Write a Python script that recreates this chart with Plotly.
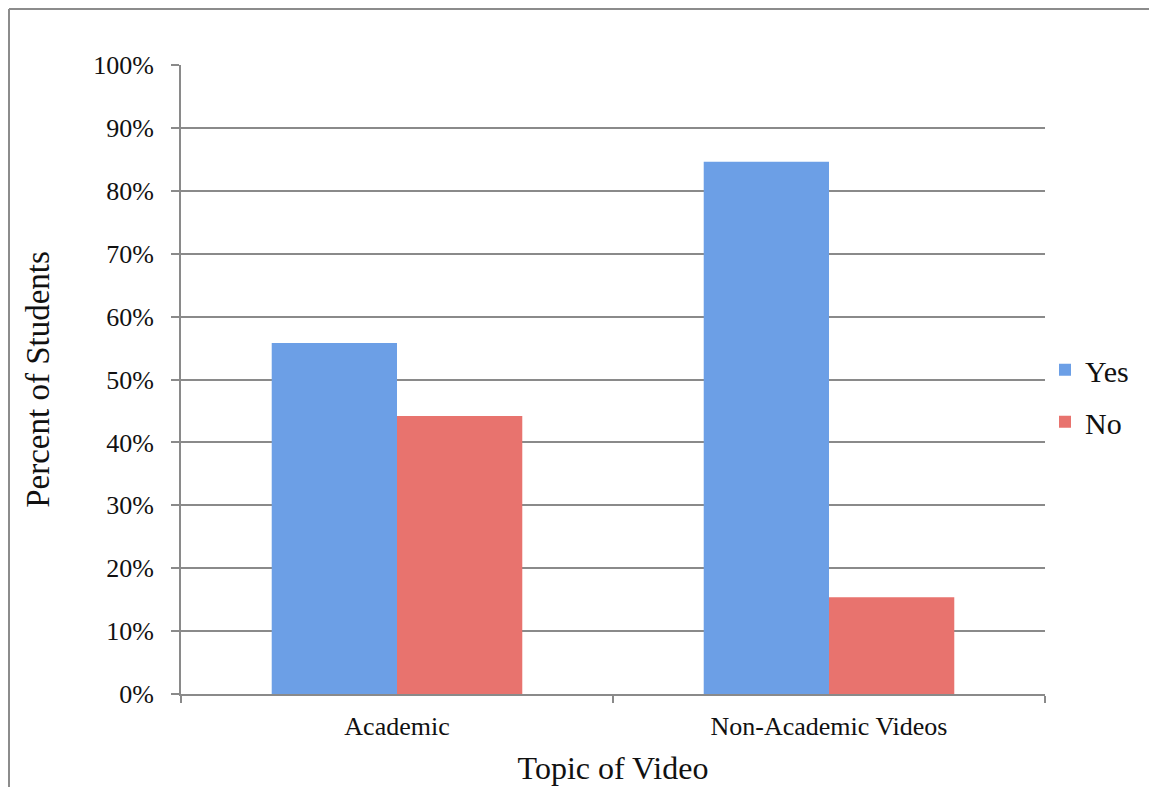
import plotly.graph_objects as go

categories = ["Academic", "Non-Academic Videos"]
yes_values = [55.8, 84.6]
no_values = [44.2, 15.4]
y_ticks = [0, 10, 20, 30, 40, 50, 60, 70, 80, 90, 100]
y_tick_labels = ["0%", "10%", "20%", "30%", "40%", "50%", "60%", "70%", "80%", "90%", "100%"]

FONT = "Liberation Serif"
GRID = "#8a8a8a"

W, H = 1149, 779
L, T = 173, 57
PW, PH = 864, 629

fig = go.Figure()
fig.add_trace(go.Bar(x=categories, y=yes_values, name="Yes",
                     marker=dict(color="#6c9fe6", line=dict(width=0)),
                     legendgroup="a"))
fig.add_trace(go.Bar(x=categories, y=no_values, name="No",
                     marker=dict(color="#e8736e", line=dict(width=0)),
                     legendgroup="b"))

fig.update_layout(
    width=W, height=H,
    margin=dict(l=L, r=W - L - PW, t=T, b=H - T - PH, autoexpand=False),
    paper_bgcolor="white", plot_bgcolor="white",
    barmode="group", bargap=0.42, bargroupgap=0,
    font=dict(family=FONT, color="#111111"),
    legend=dict(x=1.0, xanchor="left", y=0.474, yanchor="middle",
                font=dict(family=FONT, size=30),
                traceorder="grouped", tracegroupgap=10,
                itemwidth=30, bgcolor="rgba(0,0,0,0)"),
    xaxis=dict(
        type="category", tickson="boundaries", ticks="outside", ticklen=7,
        tickcolor=GRID, tickwidth=2,
        showline=True, linecolor=GRID, linewidth=2,
        tickfont=dict(family=FONT, size=26),
        ticklabelstandoff=8,
        title=dict(text="Topic of Video", font=dict(family=FONT, size=32), standoff=16),
        showgrid=False,
    ),
    yaxis=dict(
        range=[0, 100], tickvals=y_ticks, ticktext=y_tick_labels,
        ticks="outside", ticklen=8, tickcolor=GRID, tickwidth=2,
        showline=True, linecolor=GRID, linewidth=2,
        showgrid=True, gridcolor=GRID, gridwidth=1.5,
        tickfont=dict(family=FONT, size=26),
        ticklabelstandoff=12,
        title=dict(text="Percent of Students", font=dict(family=FONT, size=33), standoff=34),
        zeroline=False,
    ),
    shapes=[
        dict(type="line", xref="paper", yref="paper", x0=(1 - L) / PW, x1=(1 - L) / PW,
             y0=-0.3, y1=1 + (T - 1) / PH, line=dict(color="#8c8c8c", width=2)),
        dict(type="line", xref="paper", yref="paper", x0=(1 - L) / PW, x1=1.2,
             y0=1 + (T - 1) / PH, y1=1 + (T - 1) / PH, line=dict(color="#8c8c8c", width=2)),
    ],
)

fig.write_html("out.html")
